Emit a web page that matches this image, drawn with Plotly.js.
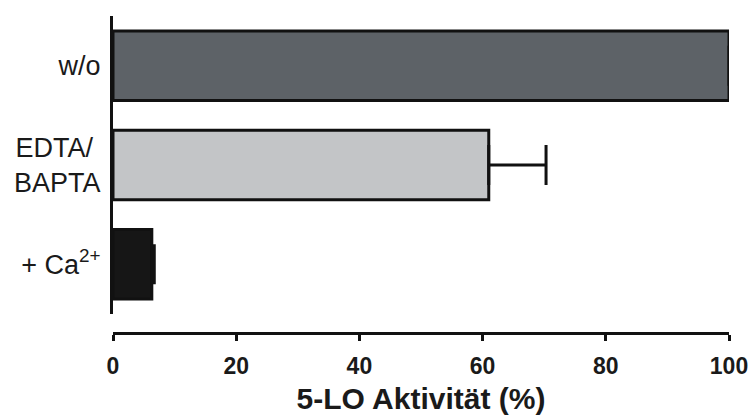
<!DOCTYPE html>
<html>
<head>
<meta charset="utf-8">
<script src="https://cdn.plot.ly/plotly-3.0.1.min.js"></script>
<style>
  html, body { margin: 0; padding: 0; background: #ffffff; }
  #chart { width: 750px; height: 419px; }
</style>
</head>
<body>
<div id="chart"></div>
<script>
// Conditions (top to bottom) and 5-LO activity relative to control
const categories = ['w/o', 'EDTA/&nbsp;<br>BAPTA', '+ Ca<sup>2+</sup>'];
const activity = [100, 61, 6.3];
const errorPlus = [0, 9.3, 0.4];
const barColors = ['#5d6267', '#c3c5c7', '#161616'];
const xTickValues = [0, 20, 40, 60, 80, 100];

const trace = {
  type: 'bar',
  orientation: 'h',
  y: categories,
  x: activity,
  width: 0.7,
  cliponaxis: false,
  marker: {
    color: barColors,
    line: { color: '#111111', width: 3 }
  },
  error_x: {
    type: 'data',
    symmetric: false,
    array: errorPlus,
    arrayminus: [0, 0, 0],
    color: '#111111',
    thickness: 3,
    width: 20
  },
  hoverinfo: 'none'
};

const layout = {
  width: 750,
  height: 419,
  margin: { l: 113, r: 21, t: 16, b: 86 },
  paper_bgcolor: '#ffffff',
  plot_bgcolor: '#ffffff',
  showlegend: false,
  font: { family: 'Arial, "Liberation Sans", sans-serif', color: '#1a1a1a' },
  xaxis: {
    range: [0, 100],
    tickvals: xTickValues,
    ticktext: xTickValues.map(String),
    showgrid: false,
    zeroline: false,
    showline: true,
    linecolor: '#111111',
    linewidth: 3,
    ticks: 'outside',
    ticklen: 6,
    tickwidth: 3,
    tickcolor: '#111111',
    ticklabelstandoff: 5,
    tickfont: { size: 23, family: 'Arial, "Liberation Sans", sans-serif', weight: 'bold', color: '#1a1a1a' },
    anchor: 'free',
    position: 0,
    title: {
      text: '5-LO Aktivität (%)',
      font: { size: 30, family: 'Arial, "Liberation Sans", sans-serif', weight: 'bold', color: '#1a1a1a' },
      standoff: 10
    }
  },
  yaxis: {
    domain: [0.06, 1],
    range: [2.5, -0.5],
    type: 'category',
    showgrid: false,
    zeroline: false,
    showline: true,
    linecolor: '#111111',
    linewidth: 3,
    ticks: '',
    ticklabelstandoff: 4,
    tickfont: { size: 27, family: 'Arial, "Liberation Sans", sans-serif', color: '#1a1a1a' }
  }
};

Plotly.newPlot('chart', [trace], layout, { displayModeBar: false, staticPlot: true });
</script>
</body>
</html>
